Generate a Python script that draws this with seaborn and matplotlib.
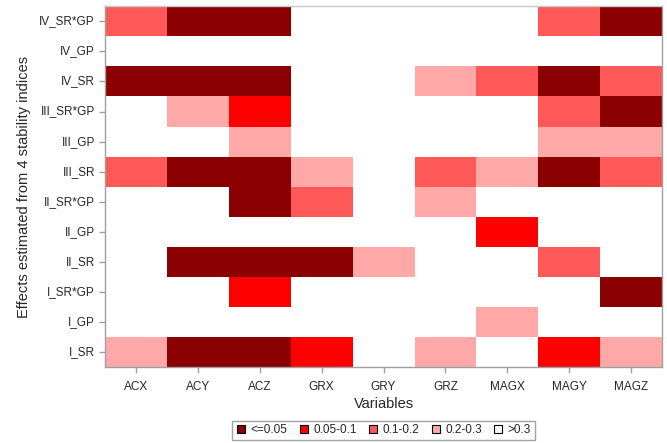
import numpy as np
import pandas as pd
import seaborn as sns
import matplotlib.pyplot as plt
from matplotlib.colors import ListedColormap
from matplotlib.lines import Line2D

variables = ["ACX", "ACY", "ACZ", "GRX", "GRY", "GRZ", "MAGX", "MAGY", "MAGZ"]
effects = ["IV_SR*GP", "IV_GP", "IV_SR", "III_SR*GP", "III_GP", "III_SR",
           "II_SR*GP", "II_GP", "II_SR", "I_SR*GP", "I_GP", "I_SR"]
bins = ["<=0.05", "0.05-0.1", "0.1-0.2", "0.2-0.3", ">0.3"]
bin_colors = ["#8b0000", "#ff0000", "#ff5858", "#ffa8a8", "#ffffff"]

# p-value bin index per row (0 = <=0.05 ... 4 = >0.3), columns follow `variables`
iv_sr_gp = [2, 0, 0, 4, 4, 4, 4, 2, 0]
iv_gp = [4, 4, 4, 4, 4, 4, 4, 4, 4]
iv_sr = [0, 0, 0, 4, 4, 3, 2, 0, 2]
iii_sr_gp = [4, 3, 1, 4, 4, 4, 4, 2, 0]
iii_gp = [4, 4, 3, 4, 4, 4, 4, 3, 3]
iii_sr = [2, 0, 0, 3, 4, 2, 3, 0, 2]
ii_sr_gp = [4, 4, 0, 2, 4, 3, 4, 4, 4]
ii_gp = [4, 4, 4, 4, 4, 4, 1, 4, 4]
ii_sr = [4, 0, 0, 0, 3, 4, 4, 2, 4]
i_sr_gp = [4, 4, 1, 4, 4, 4, 4, 4, 0]
i_gp = [4, 4, 4, 4, 4, 4, 3, 4, 4]
i_sr = [3, 0, 0, 1, 4, 3, 4, 1, 3]

df = pd.DataFrame([iv_sr_gp, iv_gp, iv_sr, iii_sr_gp, iii_gp, iii_sr,
                   ii_sr_gp, ii_gp, ii_sr, i_sr_gp, i_gp, i_sr],
                  index=effects, columns=variables)

sns.set_style("white")
plt.rcParams['font.family'] = ['Liberation Sans', 'DejaVu Sans']

fig = plt.figure(figsize=(6.67, 4.43), dpi=100)
ax = fig.add_axes([0.157, 0.171, 0.836, 0.815])
sns.heatmap(df, cmap=ListedColormap(bin_colors), vmin=-0.5, vmax=4.5, cbar=False,
            linewidths=0, ax=ax)

for side in ["left", "bottom", "right"]:
    ax.spines[side].set_visible(True)
    ax.spines[side].set_color("#a0a0a0")
    ax.spines[side].set_linewidth(1)
ax.spines["top"].set_visible(True)
ax.spines["top"].set_color("#c8c8c8")
ax.spines["top"].set_linewidth(1)

ax.tick_params(axis="both", length=4, width=1, color="#a0a0a0", labelsize=8.5, pad=3,
               bottom=True, left=True)
ax.tick_params(axis="x", pad=6)
plt.setp(ax.get_xticklabels(), rotation=0)
plt.setp(ax.get_yticklabels(), rotation=0)
ax.set_xlabel("Variables", fontsize=10.5, labelpad=3)
ax.set_ylabel("Effects estimated from 4 stability indices", fontsize=10.5, labelpad=6)

handles = [Line2D([], [], marker="s", linestyle="", markersize=6, markerfacecolor=c,
                  markeredgecolor="black", markeredgewidth=0.8) for c in bin_colors]
fig.legend(handles, bins, loc="center", bbox_to_anchor=(0.575, 0.029), ncol=5,
           fontsize=8.5, frameon=True, fancybox=False, edgecolor="#8c8c8c",
           handlelength=0.8, handletextpad=0.4, columnspacing=1.0,
           borderpad=0.3)

fig.savefig("out.png", dpi=100)
